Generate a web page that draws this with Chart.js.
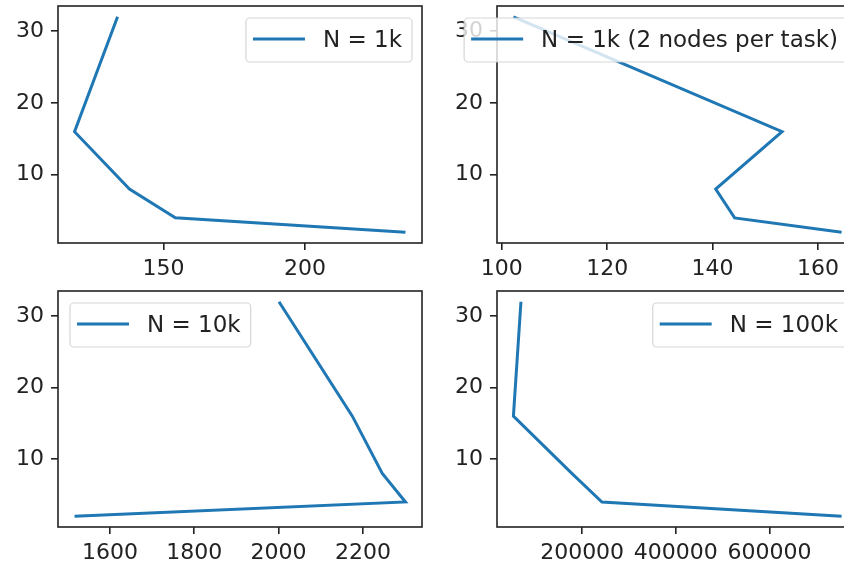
<!DOCTYPE html>
<html>
<head>
<meta charset="utf-8">
<script src="https://cdn.jsdelivr.net/npm/chart.js@4"></script>
<style>
    html, body { margin: 0; padding: 0; background: #fff; overflow: hidden; }
    #wrap { position: relative; width: 844px; height: 568px; overflow: hidden; }
    canvas { position: absolute; }
</style>
</head>
<body>
<div id="wrap">
    <canvas id="c-1k" width="430" height="285" style="left:0;top:0"></canvas>
    <canvas id="c-1k2" width="440" height="285" style="left:430px;top:0"></canvas>
    <canvas id="c-10k" width="430" height="283" style="left:0;top:285px"></canvas>
    <canvas id="c-100k" width="440" height="283" style="left:430px;top:285px"></canvas>
</div>
<script>
// nodes used (y axis) and the run times (x axis)
const nodes = [2, 4, 8, 16, 32];
const time1k = [235.5, 154.2, 138, 118.6, 133.8];
const time1k2 = [164.5, 144.2, 140.6, 153.2, 102.2];
const time10k = [1516, 2301, 2246, 2175, 2001];
const time100k = [753900, 242300, 178000, 53300, 69400];

const labels = ['N = 1k', 'N = 1k (2 nodes per task)', 'N = 10k', 'N = 100k'];

const yTicks = [10, 20, 30];
const xTicks1k = [150, 200];
const xTicks1k2 = [100, 120, 140, 160];
const xTicks10k = [1600, 1800, 2000, 2200];
const xTicks100k = [200000, 400000, 600000];

const BLUE = '#1f77b4';
Chart.defaults.font.family = "'DejaVu Sans', sans-serif";
Chart.defaults.font.size = 22;
Chart.defaults.color = '#222';

// matplotlib style limits: data range plus 5% each side
function limits(values) {
    const lo = Math.min(...values), hi = Math.max(...values);
    const m = (hi - lo) * 0.05;
    return {min: lo - m, max: hi + m};
}

// box round the axes + mpl like legend
const mplFrame = {
    id: 'mplFrame',
    afterDraw(chart, args, opts) {
        const {ctx, chartArea: a} = chart;
        ctx.save();
        ctx.strokeStyle = '#222';
        ctx.lineWidth = 1.6;
        ctx.strokeRect(a.left, a.top, a.right - a.left, a.bottom - a.top);

        ctx.font = "23px 'DejaVu Sans'";
        const tw = ctx.measureText(opts.text).width;
        const w = 7 + 52 + 18 + tw + 10, h = 44;
        const x = opts.loc === 'upper left' ? a.left + 12 : a.right - 10 - w;
        const y = a.top + 12;
        ctx.beginPath();
        ctx.roundRect(x, y, w, h, 4);
        ctx.fillStyle = 'rgba(255,255,255,0.8)';
        ctx.fill();
        ctx.strokeStyle = 'rgba(204,204,204,0.8)';
        ctx.lineWidth = 1.2;
        ctx.stroke();

        ctx.beginPath();
        ctx.moveTo(x + 7, y + 21);
        ctx.lineTo(x + 59, y + 21);
        ctx.strokeStyle = BLUE;
        ctx.lineWidth = 3;
        ctx.stroke();

        ctx.fillStyle = '#222';
        ctx.textBaseline = 'middle';
        ctx.fillText(opts.text, x + 77, y + 23);
        ctx.restore();
    }
};

function makePanel(id, times, xTicks, label, loc, yWidth, xHeight, padRight) {
    const xl = limits(times), yl = limits(nodes);
    const canvas = document.getElementById(id);
    return new Chart(canvas, {
        type: 'scatter',
        data: {
            datasets: [{
                label,
                data: times.map((t, i) => ({x: t, y: nodes[i]})),
                showLine: true,
                borderColor: BLUE,
                borderWidth: 3,
                pointRadius: 0,
                tension: 0
            }]
        },
        options: {
            responsive: false, animation: false,
            layout: {padding: {left: 0, top: 6, right: padRight, bottom: 0}},
            plugins: {
                legend: {display: false},
                tooltip: {enabled: false},
                mplFrame: {text: label, loc}
            },
            scales: {
                x: {
                    type: 'linear', min: xl.min, max: xl.max,
                    afterBuildTicks: (s) => { s.ticks = xTicks.filter(v => v >= s.min && v <= s.max).map(v => ({value: v})); },
                    afterFit: (s) => { s.height = xHeight; s.paddingLeft = 0; s.paddingRight = 0; },
                    grid: {drawOnChartArea: false, drawTicks: true, tickLength: 7, color: '#222', lineWidth: 1.6},
                    border: {display: false},
                    ticks: {padding: 6, maxRotation: 0, autoSkip: false, callback: (v) => String(v)}
                },
                y: {
                    type: 'linear', min: yl.min, max: yl.max,
                    afterBuildTicks: (s) => { s.ticks = yTicks.map(v => ({value: v})); },
                    afterFit: (s) => { s.width = yWidth; s.paddingTop = 0; s.paddingBottom = 0; },
                    grid: {drawOnChartArea: false, drawTicks: true, tickLength: 7, color: '#222', lineWidth: 1.6},
                    border: {display: false},
                    ticks: {padding: 7, callback: (v) => String(v)}
                }
            }
        },
        plugins: [mplFrame]
    });
}

makePanel('c-1k', time1k, xTicks1k, labels[0], 'upper right', 58, 42, 8);
makePanel('c-1k2', time1k2, xTicks1k2, labels[1], 'upper right', 67, 42, 12);
makePanel('c-10k', time10k, xTicks10k, labels[2], 'upper left', 58, 41, 8);
makePanel('c-100k', time100k, xTicks100k, labels[3], 'upper right', 67, 41, 12);
</script>
</body>
</html>
